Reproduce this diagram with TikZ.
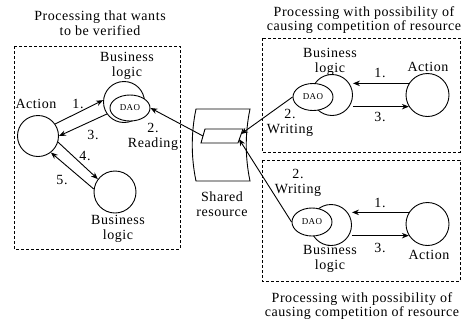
\documentclass[tikz,border=0pt]{standalone}
\usepackage{fontspec}
\setmainfont{Liberation Serif}[LetterSpace=4]
\usetikzlibrary{shapes,arrows.meta,positioning}

\tikzset{
  proc/.style={draw, circle, line width=0.9pt, minimum size=41pt, inner sep=0pt},
  daobox/.style={draw, ellipse, fill=white, line width=0.9pt, minimum width=40pt,
    minimum height=26pt, inner sep=0pt, font=\fontsize{9pt}{9pt}\selectfont},
  flow/.style={-{Stealth[length=7pt,width=5.5pt]}, line width=0.9pt},
  group/.style={dash pattern=on 3pt off 2pt, line width=0.8pt},
  lbl/.style={align=center, inner sep=0pt},
}

\begin{document}
\begin{tikzpicture}[x=1pt, y=-1pt, font=\fontsize{14pt}{14.5pt}\selectfont]
  \useasboundingbox (0,0) rectangle (466,322);
  %boxes
  \draw[group] (14,46) rectangle (180,249);
  \draw[group] (262,38) rectangle (460,152);
  \draw[group] (262,160) rectangle (460,281);

  %verified side
  \node[proc] (act) at (38,136) {};
  \node[proc] (bl) at (124,102) {};
  \node[daobox] (dao) at (130,108) {DAO};
  \node[proc, minimum size=42pt] (blb) at (115,192) {};

  %shared resource
  \draw[line width=0.9pt] (196,109) -- (250,109)
    .. controls (245,133) and (245,157) .. (250,181) -- (196,181)
    .. controls (191,157) and (191,133) .. (196,109) -- cycle;
  \draw[line width=0.9pt] (205,129) -- (243,129) -- (238,143) -- (201,143) -- cycle;
  \coordinate (pgl) at (203,136);
  \coordinate (pgr) at (241,134);
  \coordinate (pgs) at (239,139);

  %competing sides
  \node[proc] (rbl1) at (332,95) {};
  \node[daobox, minimum height=27pt] (rdao1) at (313,97) {DAO};
  \node[proc, minimum size=43pt] (ract1) at (427.5,95) {};
  \node[proc] (rbl2) at (331,225) {};
  \node[daobox, minimum height=28pt] (rdao2) at (312,222) {DAO};
  \node[proc, minimum size=43pt] (ract2) at (427.5,224) {};

  \draw[flow] (act.35) -- (bl.175);
  \draw[flow] (bl.215) -- (act.0);
  \draw[flow] (act.-17) -- (blb.143);
  \draw[flow] (blb.172) -- (act.-52);
  \draw[flow] (pgl) -- (dao.east);
  \draw[flow] (rdao1.west) -- (pgr);
  \draw[flow] (rdao2.west) -- (pgs);
  \draw[flow] (ract1.148) -- (ract1.148 -| rbl1.east);
  \draw[flow] (rbl1.east |- ract1.212) -- (ract1.212);
  \draw[flow] (ract2.148) -- (ract2.148 -| rbl2.east);
  \draw[flow] (rbl2.east |- ract2.212) -- (ract2.212);

  \node[lbl] (t1) at (100,23) {Processing that wants\\to be verified};
  \node[lbl] (t2) at (364,20) {Processing with possibility of\\causing competition of resource};
  \node[lbl] (t3) at (362,306) {Processing with possibility of\\causing competition of resource};

  \node[lbl] at (36,104) {Action};
  \node[lbl] at (127,66) {Business\\logic};
  \node[lbl] at (118,229) {Business\\logic};
  \node[lbl] at (78,104) {1.};
  \node[lbl] at (93,135) {3.};
  \node[lbl] at (153,137) {2.\\Reading};
  \node[lbl] at (85,156) {4.};
  \node[lbl] at (62,180) {5.};
  \node[lbl] at (222,204) {Shared\\resource};

  \node[lbl] at (330,62) {Business\\logic};
  \node[lbl] at (428,67) {Action};
  \node[lbl] at (380,73) {1.};
  \node[lbl] at (380,117) {3.};
  \node[lbl] at (290,123) {2.\\Writing};
  \node[lbl] at (298,183) {2.\\Writing};
  \node[lbl] at (330,259) {Business\\logic};
  \node[lbl] at (429,255) {Action};
  \node[lbl] at (380,203) {1.};
  \node[lbl] at (380,248) {3.};
\end{tikzpicture}
\end{document}
